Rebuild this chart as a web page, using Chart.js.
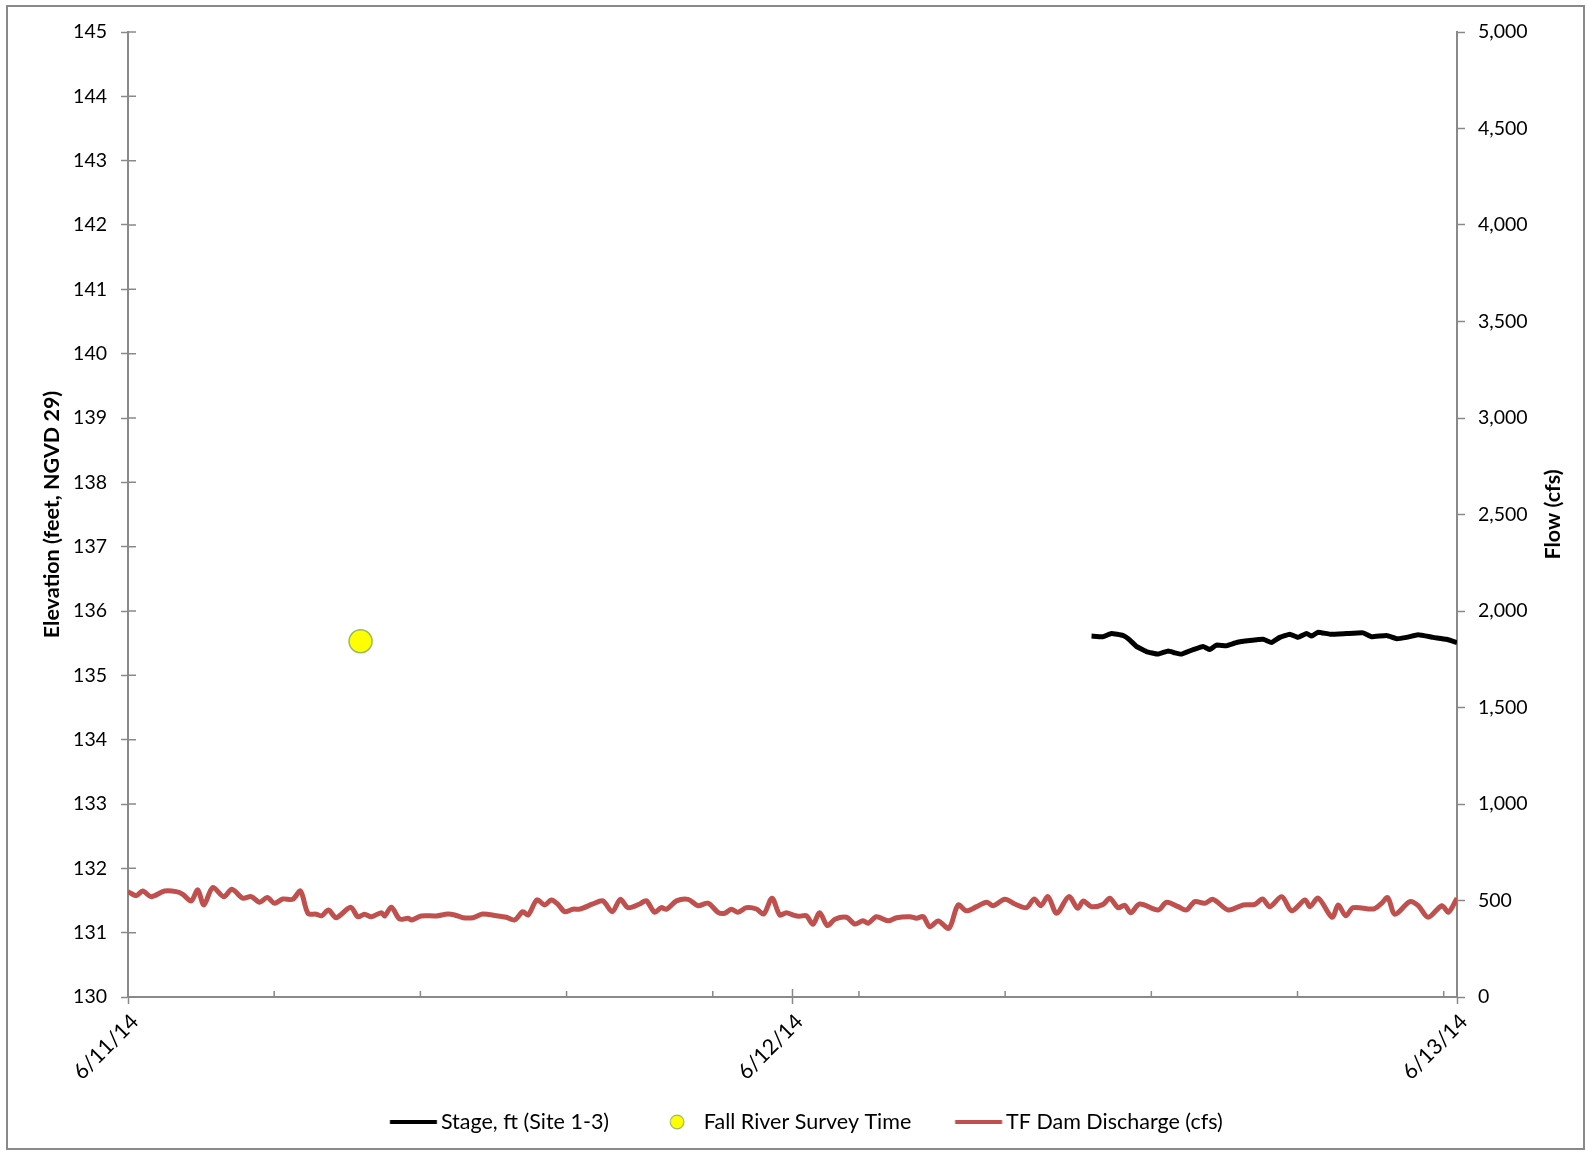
<!DOCTYPE html>
<html>
<head>
<meta charset="utf-8">
<script src="https://cdn.jsdelivr.net/npm/chart.js@4/dist/chart.umd.min.js"></script>
<style>
    html, body { margin: 0; padding: 0; background: #fff; }
    #frame {
        position: absolute; left: 6px; top: 5px; width: 1579px; height: 1145px;
        border: 2px solid #898989; box-sizing: border-box;
    }
    #wrap { position: absolute; left: 0; top: 0; width: 1585px; height: 1152px; }
</style>
</head>
<body>
<div id="frame"></div>
<div id="wrap"><canvas id="chart" width="1585" height="1152"></canvas></div>
<script>
// hours since 6/11/14 00:00
const tickHours = [0, 24, 48];
const tickLabels = ["6/11/14", "6/12/14", "6/13/14"];

const flowHours = [
    0, 0.30, 0.53, 0.84, 1.32, 1.74, 1.98, 2.28, 2.52, 2.74, 3.06, 3.46, 3.75, 4.15, 4.45, 4.75,
    5.03, 5.29, 5.59, 5.95, 6.23, 6.50, 6.80, 7.00, 7.24, 7.52, 8.04, 8.30, 8.54, 8.79, 9.15, 9.27,
    9.51, 9.81, 10.11, 10.25, 10.59, 11.14, 11.55, 11.80, 12.10, 12.46, 12.80, 13.30, 13.66, 13.96,
    14.26, 14.45, 14.77, 15.05, 15.29, 15.53, 15.77, 16.07, 16.31, 16.79, 17.15, 17.49, 17.78, 18.06,
    18.48, 18.72, 19.02, 19.26, 19.45, 19.81, 20.23, 20.59, 20.95, 21.31, 21.55, 21.79, 22.03, 22.34,
    22.70, 22.96, 23.26, 23.54, 23.78, 24.02, 24.24, 24.50, 24.74, 24.98, 25.26, 25.53, 25.95, 26.25,
    26.55, 26.73, 27.03, 27.45, 27.76, 28.24, 28.48, 28.72, 28.96, 29.26, 29.65, 29.98, 30.28, 30.65,
    31.01, 31.25, 31.67, 32.03, 32.45, 32.73, 32.97, 33.23, 33.54, 33.98, 34.30, 34.50, 34.80, 35.22,
    35.46, 35.76, 36.00, 36.22, 36.54, 37.21, 37.51, 37.93, 38.23, 38.53, 38.89, 39.19, 39.74, 40.28,
    40.70, 40.98, 41.24, 41.67, 42.03, 42.51, 42.69, 42.99, 43.49, 43.71, 43.98, 44.25, 44.98, 45.28,
    45.50, 45.76, 46.30, 46.60, 46.96, 47.45, 47.69, 48
];
const flowCfs = [
    546, 525, 549, 520, 549, 546, 532, 498, 555, 477, 567, 520, 558, 512, 520, 491,
    515, 486, 508, 506, 549, 434, 429, 421, 451, 411, 465, 416, 429, 416, 437, 420,
    465, 404, 408, 399, 420, 420, 430, 425, 411, 411, 430, 421, 413, 399,
    442, 425, 503, 477, 503, 480, 442, 455, 455, 482, 498, 442, 506, 463,
    482, 499, 439, 463, 455, 498, 506, 473, 486, 439, 434, 455, 439, 463,
    456, 430, 512, 425, 437, 425, 418, 421, 377, 437, 370, 403, 413, 378,
    395, 382, 416, 395, 411, 416, 408, 416, 364, 394, 356, 477, 447, 468,
    491, 473, 506, 482, 463, 508, 473, 520, 434, 520, 460, 498, 468, 480,
    512, 463, 475, 437, 482, 451, 491, 468, 451, 494, 486, 506, 451, 477,
    480, 508, 468, 520, 447, 503, 468, 512, 413, 477, 421, 463, 456, 486,
    515, 429, 494, 473, 413, 473, 439, 512
];

const stageHours = [
    34.80, 35.21, 35.52, 35.93, 36.18, 36.42, 36.78, 37.20, 37.57, 37.81, 38.05, 38.47, 38.83,
    39.07, 39.31, 39.67, 40.04, 40.52, 41.00, 41.30, 41.60, 41.96, 42.26, 42.57, 42.75, 42.98,
    43.41, 44.01, 44.61, 44.91, 45.46, 45.82, 46.18, 46.60, 47.14, 47.62, 48.00
];
const stageFt = [
    135.61, 135.60, 135.65, 135.62, 135.55, 135.45, 135.37, 135.33, 135.38, 135.35, 135.33, 135.40, 135.45,
    135.40, 135.47, 135.46, 135.51, 135.54, 135.56, 135.51, 135.59, 135.64, 135.59, 135.65, 135.61, 135.67,
    135.64, 135.65, 135.66, 135.60, 135.62, 135.57, 135.59, 135.63, 135.59, 135.56, 135.51
];

const surveyHours = [8.4];
const surveyFt = [135.53];

const FONT = "Lato, 'Open Sans', sans-serif";
const AXIS_GREY = "#898989";
const MINOR_STEP = 5.28;
const FLOW_TITLE = "Flow (cfs)";

const toPoints = (xs, ys) => xs.map((x, i) => ({ x: x, y: ys[i] }));

// legend samples: 100px wide images centred on the legend box,
// drawn toward its right end so the box also acts as item spacing
function lineSample(color) {
    const c = document.createElement("canvas");
    c.width = 100;
    c.height = 6;
    const g = c.getContext("2d");
    g.fillStyle = color;
    g.fillRect(43.75, 1, 47, 4);
    return c;
}

function dotSample() {
    const c = document.createElement("canvas");
    c.width = 100;
    c.height = 18;
    const g = c.getContext("2d");
    g.beginPath();
    g.arc(68, 9, 6.8, 0, Math.PI * 2);
    g.fillStyle = "#ffff00";
    g.fill();
    g.lineWidth = 1.2;
    g.strokeStyle = "#9bbb59";
    g.stroke();
    return c;
}

const legendSamples = [lineSample("#000000"), dotSample(), lineSample("#c0504d")];

// inner halves of the axis ticks, minor ticks and the right-hand title
const axisExtras = {
    id: "axisExtras",
    afterDraw(chart) {
        const { ctx, chartArea, scales } = chart;
        ctx.save();
        ctx.strokeStyle = AXIS_GREY;
        ctx.lineWidth = 1.5;
        ctx.beginPath();
        scales.y.ticks.forEach((t) => {
            const py = scales.y.getPixelForValue(t.value);
            ctx.moveTo(chartArea.left, py);
            ctx.lineTo(chartArea.left + 8, py);
        });
        for (let i = 0; i * MINOR_STEP <= scales.x.max; i++) {
            const px = scales.x.getPixelForValue(i * MINOR_STEP);
            ctx.moveTo(px, chartArea.bottom);
            ctx.lineTo(px, chartArea.bottom - 6);
        }
        scales.x.ticks.forEach((t) => {
            const px = scales.x.getPixelForValue(t.value);
            ctx.moveTo(px, chartArea.bottom);
            ctx.lineTo(px, chartArea.bottom - 8);
        });
        ctx.stroke();

        ctx.fillStyle = "#000";
        ctx.font = "bold 21.5px " + FONT;
        ctx.textAlign = "center";
        ctx.textBaseline = "middle";
        ctx.translate(scales.y1.right - 31.5, (chartArea.top + chartArea.bottom) / 2);
        ctx.rotate(-Math.PI / 2);
        ctx.fillText(FLOW_TITLE, 0, 0);
        ctx.restore();
    },
};

const tickFont = { family: FONT, size: 19.5 };
const textFont = { family: FONT, size: 21.5 };
const gridOpts = (len) => ({
    display: true,
    drawOnChartArea: false,
    tickLength: len,
    tickColor: AXIS_GREY,
    tickWidth: 1.5,
});
const borderOpts = { display: true, color: AXIS_GREY, width: 2 };

const ctx = document.getElementById("chart").getContext("2d");

new Chart(ctx, {
    type: "line",
    data: {
        datasets: [
            {
                label: "Stage, ft (Site 1-3)",
                data: toPoints(stageHours, stageFt),
                yAxisID: "y",
                borderColor: "#000000",
                borderWidth: 5,
                pointRadius: 0,
                tension: 0.1,
            },
            {
                label: "Fall River Survey Time",
                type: "scatter",
                data: toPoints(surveyHours, surveyFt),
                yAxisID: "y",
                pointRadius: 11.5,
                backgroundColor: "#ffff00",
                borderColor: "#9bbb59",
                borderWidth: 1.5,
            },
            {
                label: "TF Dam Discharge (cfs)",
                data: toPoints(flowHours, flowCfs),
                yAxisID: "y1",
                borderColor: "#c0504d",
                borderWidth: 5,
                pointRadius: 0,
                tension: 0.3,
            },
        ],
    },
    options: {
        responsive: false,
        animation: false,
        events: [],
        layout: { padding: { top: 32, left: 0, right: 0, bottom: 9.25 } },
        plugins: {
            tooltip: { enabled: false },
            legend: {
                position: "bottom",
                labels: {
                    usePointStyle: true,
                    pointStyleWidth: 68,
                    padding: 16,
                    color: "#000",
                    font: textFont,
                    generateLabels(chart) {
                        const items = Chart.defaults.plugins.legend.labels.generateLabels(chart);
                        items.forEach((it, i) => {
                            it.pointStyle = legendSamples[i];
                        });
                        return items;
                    },
                },
            },
        },
        scales: {
            x: {
                type: "linear",
                min: 0,
                max: 48,
                grid: gridOpts(7),
                border: borderOpts,
                afterBuildTicks: (s) => {
                    s.ticks = tickHours.map((v) => ({ value: v }));
                },
                afterFit: (s) => {
                    s.height = 98.25;
                },
                ticks: {
                    autoSkip: false,
                    minRotation: 45,
                    maxRotation: 45,
                    padding: 5,
                    labelOffset: 7,
                    color: "#000",
                    font: textFont,
                    callback: (v, i) => tickLabels[i],
                },
            },
            y: {
                position: "left",
                min: 130,
                max: 145,
                grid: gridOpts(7),
                border: borderOpts,
                afterFit: (s) => {
                    s.width = 128;
                },
                ticks: { stepSize: 1, padding: 14, color: "#000", font: tickFont },
                title: {
                    display: true,
                    text: "Elevation (feet, NGVD 29)",
                    color: "#000",
                    font: { family: FONT, size: 21.5, weight: "bold" },
                    padding: { top: 39, bottom: 0 },
                },
            },
            y1: {
                position: "right",
                min: 0,
                max: 5000,
                grid: gridOpts(8),
                border: borderOpts,
                afterFit: (s) => {
                    s.width = 128;
                },
                ticks: {
                    stepSize: 500,
                    padding: 13,
                    color: "#000",
                    font: tickFont,
                    callback: (v) => v.toLocaleString("en-US"),
                },
            },
        },
    },
    plugins: [axisExtras],
});
</script>
</body>
</html>
